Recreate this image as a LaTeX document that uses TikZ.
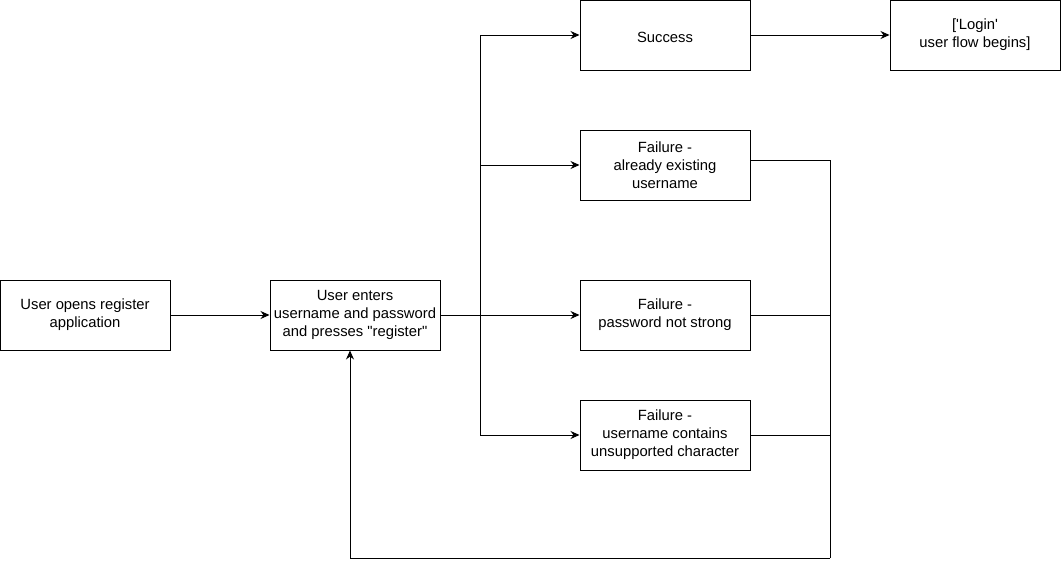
\documentclass[tikz,border=0pt]{standalone}
\usepackage{fontspec}
% no TeX quote ligatures: keep quote marks straight
\setmainfont{Liberation Sans}[Ligatures=TeXReset]
\usetikzlibrary{arrows.meta}
\begin{document}
\begin{tikzpicture}[x=1pt,y=-1pt,
  stepbox/.style={draw=black,line width=1pt,fill=white,minimum width=170pt,minimum height=70pt,
    inner sep=0pt,align=center,font=\fontsize{14.8}{18}\selectfont,
    execute at begin node={\rule{0pt}{16pt}}},
  flow/.style={draw=black,line width=1pt},
  arr/.style={flow,-{Stealth[length=9pt,width=8pt]}}]
\useasboundingbox (0,0) rectangle (1061,570);
% process boxes
\node[stepbox] (open) at (85,315) {User opens register\\application};
\node[stepbox] (enter) at (355,315) {User enters\\username and password\\and presses "register"};
\node[stepbox] (ok) at (665,35) {Success};
\node[stepbox] (f1) at (665,165) {Failure -\\already existing\\username};
\node[stepbox] (f2) at (665,315) {Failure -\\password not strong};
\node[stepbox] (f3) at (665,435) {Failure -\\username contains\\unsupported character};
\node[stepbox] (login) at (975,35) {['Login'\\user flow begins]};
% branching points
\coordinate (bTop) at (480,35);
\coordinate (bF1) at (480,165);
\coordinate (bF3) at (480,435);
\coordinate (rF1) at (830,160);
\coordinate (rF2) at (830,315);
\coordinate (rF3) at (830,435);
\coordinate (back) at (830,558);
\coordinate (backB) at (350,558);
% forward flow
\draw[arr] (open.east) -- (enter.west);
\draw[arr] (enter.east) -- (f2.west);
\draw[flow] (bTop) -- (bF3);
\draw[arr] (bTop) -- (ok.west);
\draw[arr] (bF1) -- (f1.west);
\draw[arr] (bF3) -- (f3.west);
\draw[arr] (ok.east) -- (login.west);
% retry loop back to the input step
\draw[flow] (f1.east |- rF1) -- (rF1) -- (back);
\draw[flow] (f2.east) -- (rF2);
\draw[flow] (f3.east) -- (rF3);
\draw[arr] (back) -- (backB) -- (enter.south -| backB);
\end{tikzpicture}
\end{document}
